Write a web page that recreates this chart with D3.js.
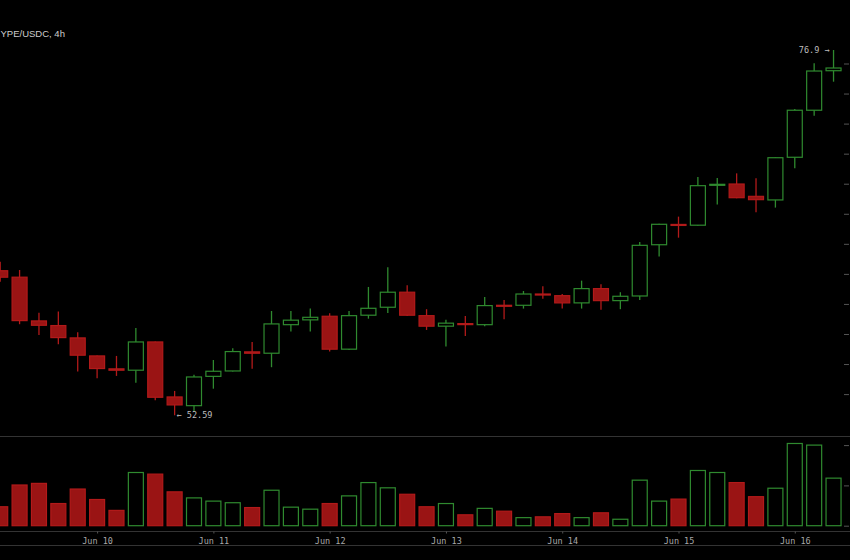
<!DOCTYPE html>
<html>
<head>
<meta charset="utf-8">
<script src="https://cdn.jsdelivr.net/npm/d3@7"></script>
<style>
  html, body { margin: 0; padding: 0; background: #000; overflow: hidden; }
  svg { display: block; }
</style>
</head>
<body>
<div id="chart"></div>
<script>
var symbol = 'YPE/USDC, 4h';   // the reference crop starts inside the symbol name
var firstBar = Date.UTC(2025, 5, 9, 4);   // Jun 9 04:00, one bar every 4h
var barHours = 4;

var opens  = [62.21, 61.78, 58.87, 58.56, 57.74, 56.54, 55.68, 55.59, 57.47, 53.81,
              53.23, 55.18, 55.54, 56.81, 56.72, 58.62, 58.94, 59.18, 56.99, 59.25,
              59.78, 60.78, 59.22, 58.52, 58.69, 58.62, 59.91, 59.91, 60.66, 60.55,
              60.07, 61.02, 60.22, 60.53, 63.94, 65.29, 65.24, 67.92, 67.98, 67.16,
              66.92, 69.76, 72.89, 75.52];
var highs  = [62.81, 62.26, 59.42, 59.49, 58.12, 56.57, 56.54, 58.40, 57.50, 54.21,
              55.28, 56.27, 57.05, 57.47, 59.53, 59.53, 59.69, 59.38, 59.53, 61.13,
              62.44, 61.24, 59.65, 58.94, 59.20, 60.46, 60.27, 60.86, 61.18, 60.66,
              61.55, 61.31, 60.78, 64.12, 65.34, 65.81, 68.45, 68.38, 68.69, 68.36,
              69.76, 72.97, 76.01, 76.90];
var lows   = [61.48, 58.65, 57.94, 57.32, 55.50, 55.06, 55.21, 54.76, 53.59, 52.59,
              52.83, 54.36, 55.50, 55.69, 55.79, 58.16, 58.16, 56.83, 56.94, 59.02,
              59.40, 59.20, 58.27, 57.16, 57.87, 58.52, 58.98, 59.69, 60.35, 59.69,
              59.69, 59.62, 59.65, 60.27, 63.15, 64.41, 65.20, 66.61, 67.03, 66.10,
              66.41, 69.03, 72.53, 74.79];
var closes = [61.78, 58.89, 58.58, 57.76, 56.59, 55.70, 55.59, 57.47, 53.79, 53.28,
              55.14, 55.52, 56.83, 56.72, 58.67, 58.92, 59.11, 56.99, 59.22, 59.71,
              60.78, 59.25, 58.52, 58.72, 58.65, 59.89, 59.87, 60.66, 60.62, 60.07,
              61.02, 60.22, 60.51, 63.90, 65.30, 65.25, 67.87, 67.96, 67.07, 66.94,
              69.73, 72.89, 75.50, 75.70];
var volumes = [0.47, 1.01, 1.05, 0.55, 0.91, 0.65, 0.38, 1.32, 1.28, 0.84,
               0.69, 0.61, 0.57, 0.45, 0.88, 0.46, 0.41, 0.55, 0.74, 1.07,
               0.94, 0.78, 0.47, 0.55, 0.27, 0.43, 0.36, 0.20, 0.22, 0.30,
               0.20, 0.32, 0.16, 1.13, 0.61, 0.66, 1.37, 1.32, 1.07, 0.72,
               0.93, 2.04, 2.00, 1.18];
var dayTicks = [Date.UTC(2025, 5, 10), Date.UTC(2025, 5, 11), Date.UTC(2025, 5, 12),
                Date.UTC(2025, 5, 13), Date.UTC(2025, 5, 14), Date.UTC(2025, 5, 15),
                Date.UTC(2025, 5, 16)];
var priceTicks = [54, 56, 58, 60, 62, 64, 66, 68, 70, 72, 74, 76];
var volumeTicks = [0, 1, 2];

var width = 850, height = 560;
var barWidth = 16;
var green = '#2f8a2f', red = '#b21a1a', redFill = '#9a1414';
var gridColor = '#333';

var bars = opens.map(function (o, i) {
    return {
        time: new Date(firstBar + i*barHours*3600*1000),
        open: o, high: highs[i], low: lows[i], close: closes[i], volume: volumes[i],
        up: closes[i] >= o
    };
});

var x = d3.scaleUtc()
    .domain([bars[0].time, bars[bars.length - 1].time])
    .range([0.2, 0.2 + 19.38*(bars.length - 1)]);
var y = d3.scaleLinear().domain([54, 76]).range([394.1, 63.5]);
var yVol = d3.scaleLinear().domain([0, 2]).range([525.7, 445.1]);

var svg = d3.select('#chart')
    .append('svg')
    .attr('width', width)
    .attr('height', height)
    .style('background', '#000');

// pane separators
[436.5, 531.5, 545.5].forEach(function (ly) {
    svg.append('line')
        .attr('x1', 0).attr('x2', width)
        .attr('y1', ly).attr('y2', ly)
        .attr('stroke', gridColor)
        .attr('stroke-width', 1);
});

svg.append('text')
    .attr('x', 0.5)
    .attr('y', 36.5)
    .style('font-family', 'Liberation Sans, Arial, sans-serif')
    .style('font-size', '9.5px')
    .attr('fill', '#cccccc')
    .text(symbol);

// right-hand tick marks (labels fall outside the crop)
var priceAxis = svg.append('g')
    .attr('transform', 'translate(844,0)')
    .call(d3.axisRight(y).tickValues(priceTicks).tickSize(5).tickFormat(''));
var volAxis = svg.append('g')
    .attr('transform', 'translate(844,0)')
    .call(d3.axisRight(yVol).tickValues(volumeTicks).tickSize(5).tickFormat(''));
[priceAxis, volAxis].forEach(function (a) {
    a.select('.domain').remove();
    a.selectAll('line').attr('stroke', '#555');
});

// time axis
var timeAxis = svg.append('g')
    .attr('transform', 'translate(0,531.5)')
    .call(d3.axisBottom(x).tickValues(dayTicks).tickSize(2).tickPadding(4)
        .tickFormat(d3.utcFormat('%b %-d')));
timeAxis.select('.domain').remove();
timeAxis.selectAll('line').attr('stroke', '#555');
timeAxis.selectAll('text')
    .attr('fill', '#a8a8a8')
    .style('font-family', 'DejaVu Sans Mono, monospace')
    .style('font-size', '8.5px');

// volume
svg.append('g').selectAll('rect')
    .data(bars)
    .enter()
    .append('rect')
    .attr('x', d => x(d.time) - barWidth/2 + 0.5)
    .attr('y', d => yVol(d.volume))
    .attr('width', barWidth - 1)
    .attr('height', d => yVol(0) - yVol(d.volume))
    .attr('fill', d => d.up ? '#000' : redFill)
    .attr('stroke', d => d.up ? green : red)
    .style('stroke-width', '1.2px');

// candles
var candles = svg.append('g').selectAll('g')
    .data(bars)
    .enter()
    .append('g');

candles.append('line')
    .attr('x1', d => x(d.time))
    .attr('x2', d => x(d.time))
    .attr('y1', d => y(d.high))
    .attr('y2', d => y(d.low))
    .attr('stroke', d => d.up ? green : red)
    .style('stroke-width', '1.3px');

candles.append('rect')
    .attr('x', d => x(d.time) - barWidth/2 + 0.5)
    .attr('y', d => y(Math.max(d.open, d.close)))
    .attr('width', barWidth - 1)
    .attr('height', d => Math.max(1, Math.abs(y(d.open) - y(d.close))))
    .attr('fill', d => d.up ? '#000' : redFill)
    .attr('stroke', d => d.up ? green : red)
    .style('stroke-width', '1.2px');

// high / low markers
var hiBar = bars[d3.maxIndex(bars, d => d.high)];
var loBar = bars[d3.minIndex(bars, d => d.low)];

svg.append('text')
    .attr('x', x(hiBar.time) - 4)
    .attr('y', y(hiBar.high) + 3)
    .attr('text-anchor', 'end')
    .attr('fill', '#bdbdbd')
    .style('font-family', 'DejaVu Sans Mono, monospace')
    .style('font-size', '8.5px')
    .text(hiBar.high.toFixed(1) + ' \u2192');

svg.append('text')
    .attr('x', x(loBar.time) + 2)
    .attr('y', y(loBar.low) + 3)
    .attr('fill', '#bdbdbd')
    .style('font-family', 'DejaVu Sans Mono, monospace')
    .style('font-size', '8.5px')
    .text('\u2190 ' + loBar.low.toFixed(2));
</script>
</body>
</html>
